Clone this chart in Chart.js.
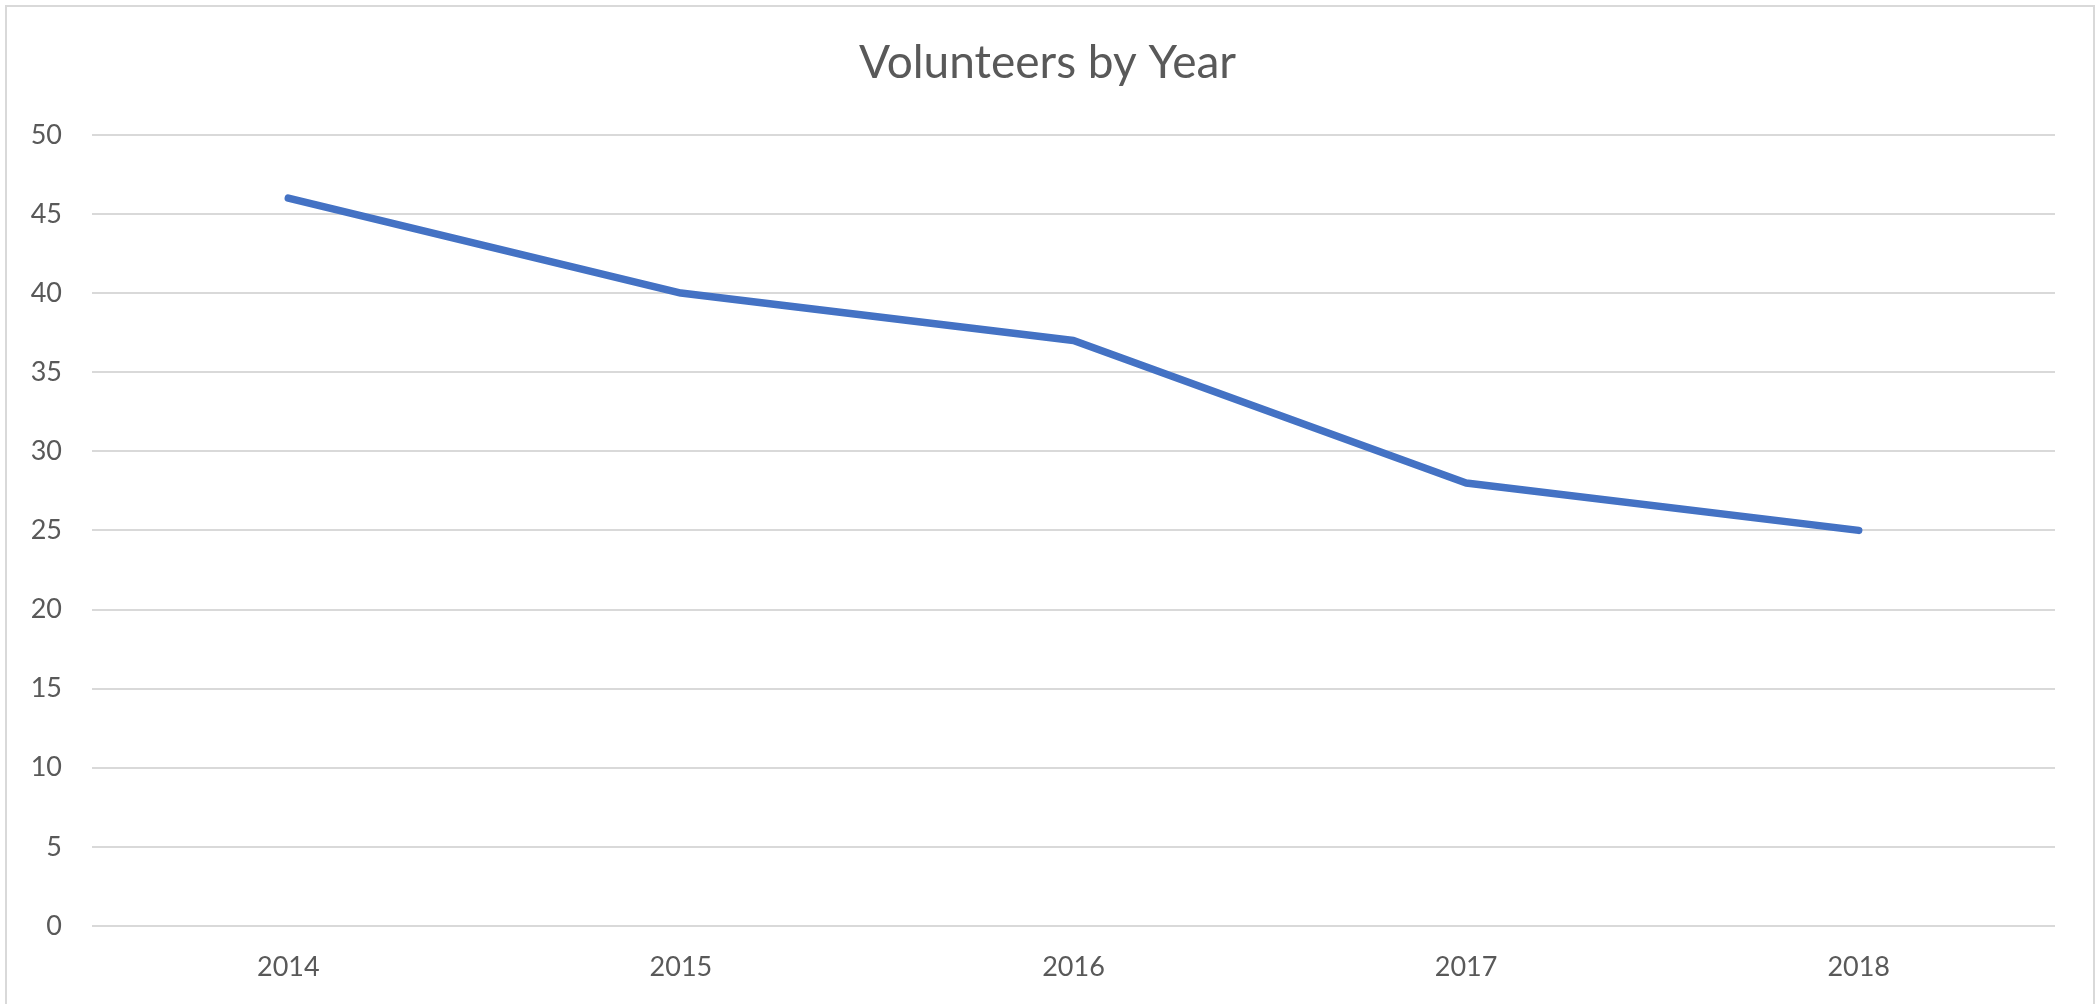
<!DOCTYPE html>
<html>
<head>
<meta charset="utf-8">
<script src="https://cdn.jsdelivr.net/npm/chart.js@4/dist/chart.umd.min.js"></script>
<style>
  html, body { margin: 0; padding: 0; background: #ffffff; overflow: hidden; }
  #wrap { position: relative; width: 2095px; height: 1004px; }
  #frame { position: absolute; left: 5px; top: 5px; width: 2090px; height: 1100px;
           box-sizing: border-box; border: 2px solid #D9D9D9; pointer-events: none; }
  canvas { position: absolute; left: 0; top: 0; }
</style>
</head>
<body>
<div id="wrap">
  <canvas id="c" width="2095" height="1004"></canvas>
  <div id="frame"></div>
</div>
<script>
const chartTitle = 'Volunteers by Year';
const categories = ['2014', '2015', '2016', '2017', '2018'];
const volunteers = [46, 40, 37, 28, 25];
const yMin = 0;
const yMax = 50;
const yStep = 5;

const textColor = '#595959';
const fontFamily = 'Lato, "Open Sans", sans-serif';

new Chart(document.getElementById('c'), {
  type: 'line',
  data: {
    labels: categories,
    datasets: [{
      label: 'Volunteers',
      data: volunteers,
      yAxisID: 'y',
      borderColor: '#4472C4',
      backgroundColor: '#4472C4',
      borderWidth: 7.5,
      borderCapStyle: 'round',
      borderJoinStyle: 'round',
      pointRadius: 0,
      pointHoverRadius: 0,
      tension: 0,
      fill: false
    }]
  },
  options: {
    responsive: false,
    animation: false,
    devicePixelRatio: 1,
    layout: { padding: 0 },
    plugins: {
      legend: { display: false },
      tooltip: { enabled: false },
      title: {
        display: true,
        text: chartTitle,
        color: textColor,
        font: { family: fontFamily, size: 46, weight: 'normal' },
        padding: { top: 36, bottom: 43.6 }
      }
    },
    scales: {
      x: {
        type: 'category',
        offset: true,
        grid: { display: false, drawTicks: false },
        border: { display: false },
        ticks: {
          color: textColor,
          font: { family: fontFamily, size: 27 },
          padding: 25,
          maxRotation: 0
        },
        afterFit: (s) => { s.height = 78; }
      },
      y: {
        position: 'left',
        min: yMin,
        max: yMax,
        grid: { color: '#D9D9D9', lineWidth: 2, drawTicks: false },
        border: { display: false },
        ticks: {
          stepSize: yStep,
          color: textColor,
          font: { family: fontFamily, size: 27 },
          padding: 30
        },
        afterFit: (s) => { s.width = 92; }
      },
      spacer: {
        position: 'right',
        min: yMin,
        max: yMax,
        grid: { display: false, drawTicks: false },
        border: { display: false },
        ticks: { display: false },
        afterFit: (s) => { s.width = 40; }
      }
    }
  }
});
</script>
</body>
</html>
